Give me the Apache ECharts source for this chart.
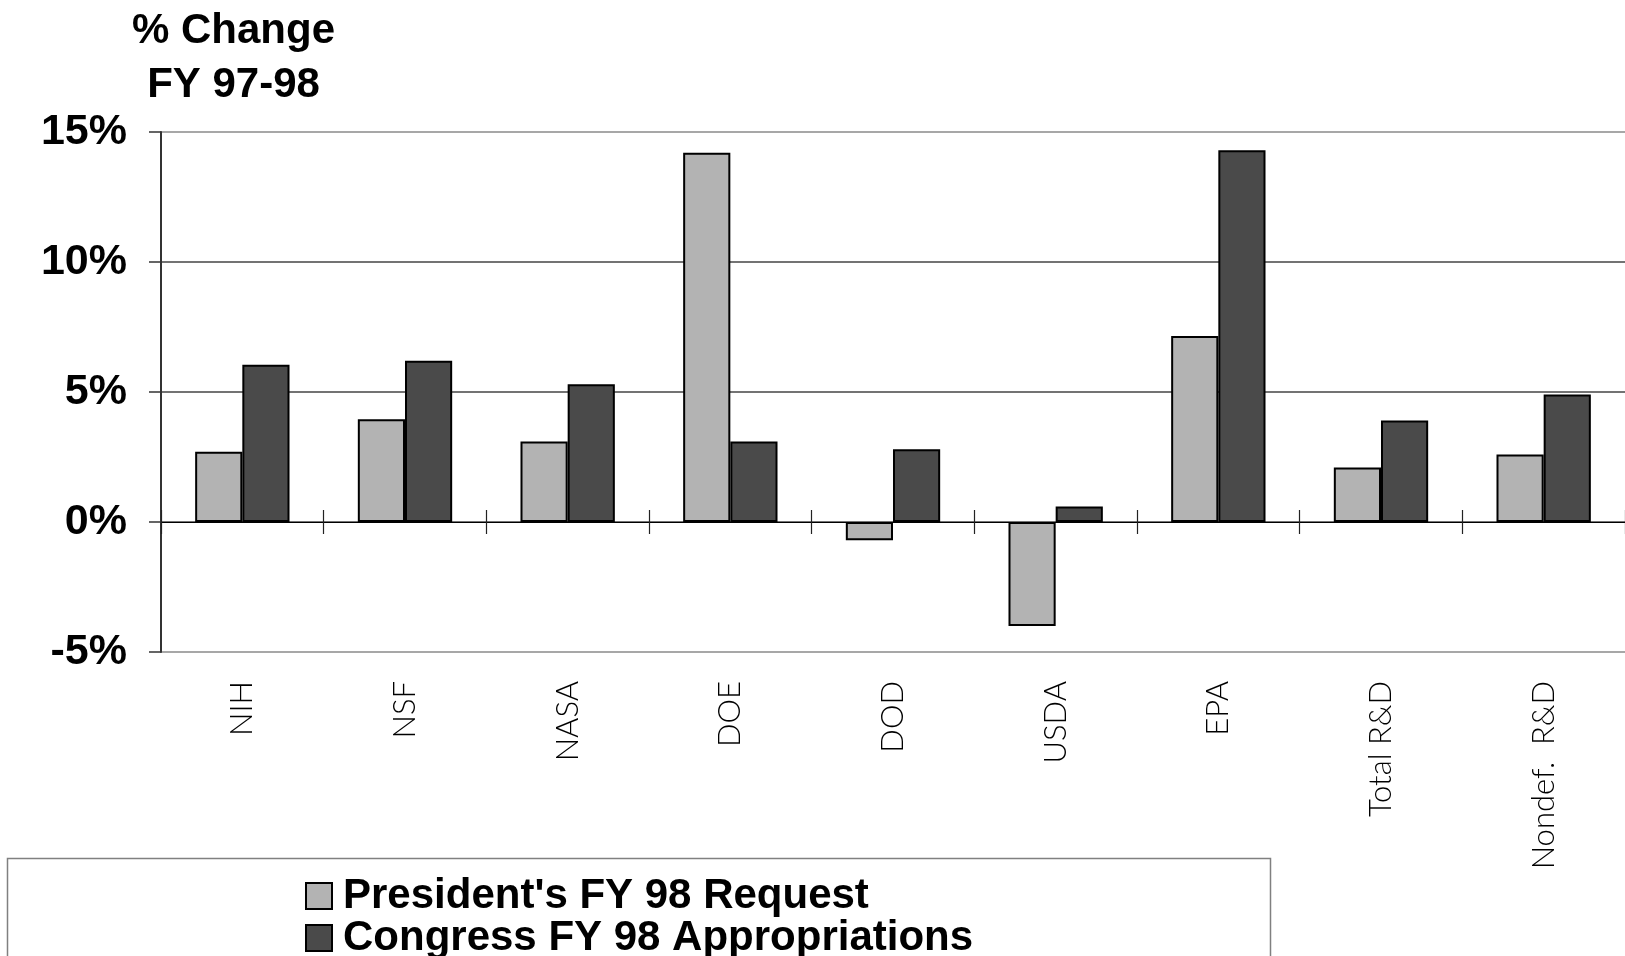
<!DOCTYPE html>
<html>
<head>
<meta charset="utf-8">
<script src="https://cdn.jsdelivr.net/npm/echarts@6/dist/echarts.min.js"></script>
<style>
html,body{margin:0;padding:0;background:#fff;}
#chart{width:1625px;height:956px;}
</style>
</head>
<body>
<div id="chart"></div>
<script>
var categories = ['NIH', 'NSF', 'NASA', 'DOE', 'DOD', 'USDA', 'EPA', 'Total R&D', 'Nondef.  R&D'];
var presidentRequest = [2.7, 3.95, 3.1, 14.2, -0.7, -4.0, 7.15, 2.1, 2.6];
var congressAppropriations = [6.05, 6.2, 5.3, 3.1, 2.8, 0.6, 14.3, 3.9, 4.9];
var seriesNames = ["President's FY 98 Request", 'Congress FY 98 Appropriations'];
var yTitle = '% Change\nFY 97-98';

var chart = echarts.init(document.getElementById('chart'), null, {renderer: 'canvas'});
var boldFont = 'Liberation Sans, Arial, sans-serif';
var lightFont = 'Lato, Roboto, Liberation Sans, sans-serif';

function legendFor(name, top) {
  return {
    orient: 'vertical',
    left: 305, top: top, padding: 0,
    itemWidth: 26, itemHeight: 26, itemGap: 0,
    icon: 'rect',
    itemStyle: {borderColor: '#000', borderWidth: 2},
    textStyle: {fontFamily: boldFont, fontWeight: 'bold', fontSize: 42, color: '#000', padding: [0, 0, 0, 6]},
    data: [name]
  };
}

var option = {
  backgroundColor: '#ffffff',
  animation: false,
  grid: {left: 161, top: 132, right: 0, bottom: 304, containLabel: false},
  graphic: [
    {
      type: 'text', left: 233 - 101, top: 4,
      style: {text: yTitle, font: 'bold 42px ' + boldFont, fill: '#000', textAlign: 'center', lineHeight: 54, x: 101}
    },
    {
      type: 'rect', left: 5, top: 856,
      shape: {x: 0, y: 0, width: 1263, height: 200},
      style: {fill: 'none', stroke: '#808080', lineWidth: 1.5},
      z: -1
    }
  ],
  legend: [legendFor(seriesNames[0], 875), legendFor(seriesNames[1], 917)],
  xAxis: [
    {
      type: 'category', data: categories, position: 'bottom',
      axisLine: {show: false, onZero: false},
      axisTick: {show: false},
      axisLabel: {rotate: 90, margin: 29, fontFamily: lightFont, fontWeight: 300, fontSize: 31, color: '#000', interval: 0}
    },
    {
      type: 'category', data: categories, position: 'bottom',
      axisLine: {show: true, onZero: true, onZeroAxisIndex: 0, lineStyle: {color: '#000', width: 1.2}},
      axisTick: {show: true, inside: false, length: 12, lineStyle: {color: '#222', width: 1.2}},
      axisLabel: {show: false}
    },
    {
      type: 'category', data: categories, position: 'bottom',
      axisLine: {show: true, onZero: true, onZeroAxisIndex: 0, lineStyle: {color: '#000', width: 1, opacity: 0}},
      axisTick: {show: true, inside: true, length: 12, lineStyle: {color: '#222', width: 1.2}},
      axisLabel: {show: false}
    }
  ],
  yAxis: {
    type: 'value', min: -5, max: 15, interval: 5,
    axisLine: {show: true, lineStyle: {color: '#333', width: 2}},
    axisTick: {show: true, length: 12, lineStyle: {color: '#333', width: 1.5}},
    axisLabel: {formatter: '{value}%', margin: 34, fontFamily: boldFont, fontWeight: 'bold', fontSize: 43, color: '#000'},
    splitLine: {show: true, lineStyle: {color: ['#8a8a8a', '#444', '#444', '#444', '#8a8a8a'], width: 1.5}}
  },
  series: [
    {
      name: seriesNames[0], type: 'bar', xAxisIndex: 0, data: presidentRequest,
      barGap: '0%', barCategoryGap: '42%',
      itemStyle: {color: '#b3b3b3', borderColor: '#000', borderWidth: 2}
    },
    {
      name: seriesNames[1], type: 'bar', xAxisIndex: 0, data: congressAppropriations,
      barGap: '0%', barCategoryGap: '42%',
      itemStyle: {color: '#4a4a4a', borderColor: '#000', borderWidth: 2}
    }
  ]
};
chart.setOption(option);
</script>
</body>
</html>
